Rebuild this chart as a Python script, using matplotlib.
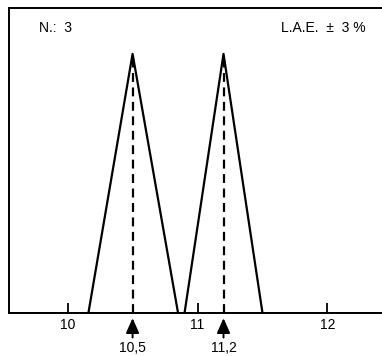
import numpy as np
import matplotlib.pyplot as plt

# triangular distributions around the two means
peak1_x = [10.16, 10.5, 10.85]
peak2_x = [10.9, 11.2, 11.5]
peak_y = [0.0, 0.85, 0.0]
means = [10.5, 11.2]
mean_labels = ["10,5", "11,2"]
xticks = [10, 11, 12]

plt.rcParams['font.family'] = ['Liberation Sans', 'DejaVu Sans']

fig = plt.figure(figsize=(3.82, 3.56), dpi=100)
ax = fig.add_axes([0.024, 0.121, 0.976, 0.856])

ax.plot([9.55, 12.45], [0, 0], color='black', lw=1.4)
ax.plot(peak1_x, peak_y, color='black', lw=1.6)
ax.plot(peak2_x, peak_y, color='black', lw=1.6)
for m in means:
    ax.plot([m, m], [0, 0.85], color='black', lw=1.6, ls=(0, (4, 2.5)))

ax.set_xlim(9.55, 12.42)
ax.set_ylim(0, 1)
ax.set_xticks(xticks)
ax.set_xticklabels([str(t) for t in xticks], fontsize=10)
ax.set_yticks([])
ax.tick_params(axis='x', direction='in', length=7, width=1.3, pad=4)
ax.spines['right'].set_visible(False)
for s in ['left', 'top', 'bottom']:
    ax.spines[s].set_linewidth(1.4)

ax.text(0.08, 0.935, "N.:  3", transform=ax.transAxes, fontsize=10, ha='left', va='center')
ax.text(0.955, 0.935, "L.A.E.  ±  3 %", transform=ax.transAxes, fontsize=10, ha='right', va='center')

for m, lab in zip(means, mean_labels):
    ax.annotate("", xy=(m, -0.008), xytext=(m, -0.09), xycoords=('data', 'axes fraction'),
                textcoords=('data', 'axes fraction'), annotation_clip=False,
                arrowprops=dict(arrowstyle='-|>,head_length=0.9,head_width=0.4', color='black', lw=1.4))
    ax.text(m, -0.115, lab, transform=ax.get_xaxis_transform(), fontsize=10, ha='center', va='center')

fig.savefig("out.png", dpi=100)
